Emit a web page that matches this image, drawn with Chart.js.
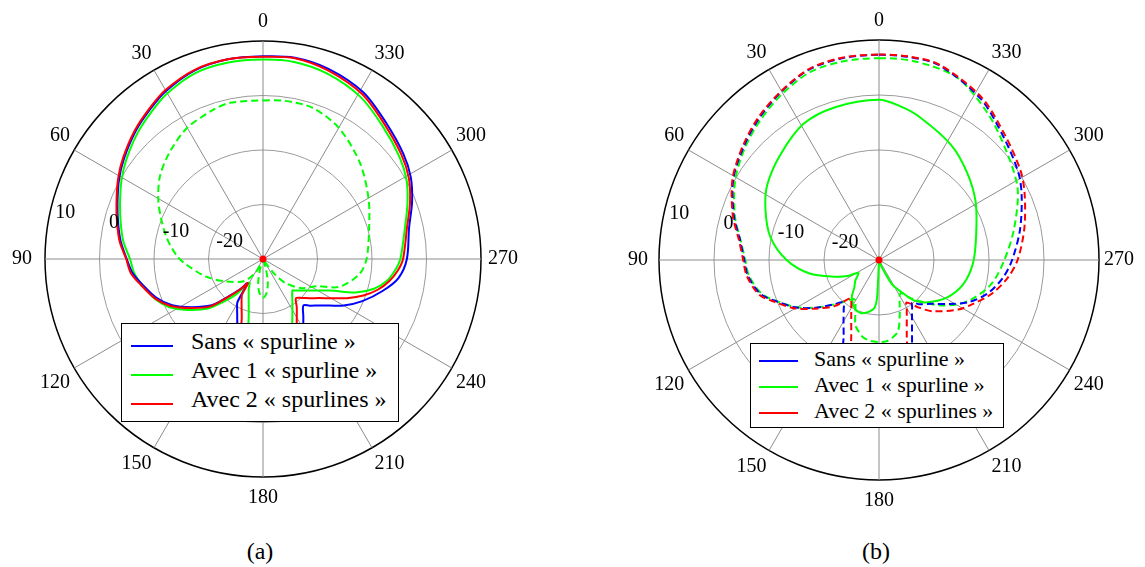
<!DOCTYPE html>
<html>
<head>
<meta charset="utf-8">
<script src="https://cdn.jsdelivr.net/npm/chart.js@4.4.1/dist/chart.umd.min.js"></script>
<style>
body { margin:0; background:#fff; font-family:"Liberation Serif","Times New Roman",serif; }
#wrap { position:relative; width:1145px; height:567px; overflow:hidden; background:#fff; }
canvas { position:absolute; top:0; }
.legend { position:absolute; background:#fff; border:1.5px solid #000; box-sizing:border-box; }
.legend .txt { position:absolute; white-space:nowrap; color:#000; }
.legend .sw { position:absolute; height:0; border-top:2px solid; }
.caption { position:absolute; width:80px; text-align:center; font-size:24px; line-height:28px; }
</style>
</head>
<body>
<div id="wrap">
  <canvas id="chartA" width="530" height="520" style="left:0px"></canvas>
  <canvas id="chartB" width="545" height="520" style="left:600px"></canvas>
  <div class="legend" id="legA"></div>
  <div class="legend" id="legB"></div>
  <div class="caption" style="left:220px;top:537px">(a)</div>
  <div class="caption" style="left:836px;top:537px">(b)</div>
</div>

<script>
// angle labels (deg, counter-clockwise from top) and radial ticks (dB)
var angleTicks = [0, 30, 60, 90, 120, 150, 180, 210, 240, 270, 300, 330];
var radialTicks = [-20, -10, 0, 10];
var legendNames = ['Sans « spurline »', 'Avec 1 « spurline »', 'Avec 2 « spurlines »'];
var legendColors = ['#0000ff', '#00ff00', '#ff0000'];

// (a) [angle, dB]
var sansA = [[0,7.2],[10,7.2],[20,6.8],[30,5.6],[37,4.4],[45,3.1],[54,1.5],[61,0.2],[69,-1.4],[76,-2.6],[83,-3.7],[90,-5.0],[96,-5.9],[102,-7.4],[110,-9.2],[117,-11.3],[124,-14.2],[132,-17.3],[137,-20.5],[143,-23.1],[147,-24.7],[149,-21.1],[150,-20.5],[155,-18.8],[160,-16.2],[165,-11.7],[172,-12],[180,-12],[188,-11],[195,-2.5],[200,-8.4],[205,-12.5],[210,-15.2],[215,-17.1],[221,-18.7],[225,-17.9],[230,-16.7],[235,-15.1],[240,-12.9],[247,-10.2],[255,-7.3],[262,-4.9],[270,-3.6],[282,-2.6],[291,-0.7],[299,1.0],[307,2.2],[318,3.7],[329,5.7],[341,6.9],[351,7.4]];
var avec1A = [[0,6.6],[10,6.6],[20,6.3],[30,5.1],[37,3.9],[45,2.6],[54,1.0],[61,-0.3],[69,-1.9],[76,-3.1],[83,-4.2],[90,-5.6],[96,-6.2],[102,-7.3],[110,-8.8],[117,-10.6],[124,-13.3],[132,-16.4],[137,-19.2],[143,-22.0],[150,-25.0],[155,-23.8],[160,-22.3],[165,-19.9],[170,-14.9],[175,-12.5],[180,-12],[190,-12],[195,-10.5],[200,-14.3],[205,-17.3],[210,-19.2],[215,-20.6],[223,-22.1],[225,-21.8],[230,-21.0],[235,-19.9],[240,-18.4],[245,-16.3],[250,-12.0],[255,-8.9],[260,-6.9],[265,-5.7],[270,-4.8],[282,-3.4],[291,-1.6],[299,0.1],[307,1.3],[318,2.8],[329,4.7],[341,6.0],[351,6.6]];
var avec2A = [[0,7.1],[10,7.2],[20,6.9],[30,5.8],[37,4.6],[45,3.3],[54,1.7],[61,0.4],[69,-1.2],[76,-2.4],[83,-3.5],[90,-4.9],[96,-5.6],[102,-7.1],[110,-8.9],[117,-11.0],[124,-13.9],[132,-17.0],[137,-20.3],[143,-23.0],[148,-24.8],[149,-22.8],[150,-22.2],[155,-20.7],[160,-18.6],[165,-14.9],[172,-14],[180,-13.5],[188,-12],[195,-6.1],[200,-11.9],[205,-15.4],[210,-17.6],[215,-19.2],[220,-20.6],[225,-19.9],[230,-18.8],[235,-17.5],[240,-15.6],[245,-13.0],[250,-10.4],[255,-8.2],[260,-6.5],[265,-5.2],[270,-4.3],[282,-3.0],[291,-1.1],[299,0.6],[307,1.8],[318,3.3],[329,5.3],[341,6.6],[351,7.3]];
var avec1A_x = [[0,-0.9],[12,-0.7],[18,-1.1],[30,-2.2],[41,-3.95],[51,-5.7],[60,-7.8],[68,-9.8],[78,-12.0],[88,-14.2],[94,-15.85],[107,-19.0],[121,-22.0],[139,-24.6],[151,-27.1],[155,-29.5],[160,-30],[164,-28],[168,-25.8],[172,-24.3],[176,-23.3],[180,-22.9],[184,-23.3],[188,-24.3],[192,-25.8],[196,-28],[200,-30],[210,-30],[213,-29.3],[217,-26.8],[223,-24.0],[233,-21.1],[243,-19.0],[250,-15.1],[261,-12.1],[270,-11.0],[286,-9.75],[300,-7.65],[315,-4.9],[330,-2.2],[342,-0.8],[352,-0.7]];

// (b)
var sansB = [[0,7.3],[10,7.3],[20,6.9],[30,5.4],[40,3.8],[50,2.1],[61,0.3],[73,-2.4],[82,-4.5],[90,-5.5],[97,-6.0],[106,-7.6],[112,-9.9],[120,-12.7],[127,-15.6],[134,-18.3],[140,-19.9],[145,-18.8],[150,-17.1],[155,-14.8],[160,-11.2],[170,-9],[180,-8],[190,-9],[195,-6.7],[200,-12.4],[205,-15.8],[210,-18.0],[215,-19.5],[218,-20.2],[222,-19.2],[230,-17.6],[238,-14.9],[245,-11.9],[253,-9.3],[262,-7.2],[270,-5.8],[282,-3.8],[294,-1.6],[302,-0.1],[315,1.9],[328,4.7],[343,7.1],[352,7.3]];
var avec1B = [[0,6.7],[10,6.7],[20,6.4],[30,5.0],[40,3.4],[50,1.8],[61,-0.1],[73,-2.6],[82,-4.6],[90,-5.7],[97,-6.2],[106,-7.8],[112,-10.0],[120,-12.8],[127,-15.6],[135,-18.6],[147,-21.55],[150,-21.4],[155,-19.85],[160,-17.45],[164,-16.5],[168,-15.7],[174,-15.2],[180,-15.1],[185,-15.15],[190,-15.7],[195,-16.6],[200,-19.0],[205,-21.1],[210,-22.5],[214,-22.8],[219,-21.2],[226,-19.0],[233,-16.3],[240,-13.8],[247,-11.7],[258,-9.1],[270,-7.2],[283,-4.8],[297,-1.7],[309,0.2],[323,3.1],[337,6.1],[350,6.7]];
var avec2B = [[0,7.35],[10,7.4],[20,7.0],[30,5.5],[40,4.0],[50,2.3],[61,0.45],[73,-2.2],[82,-4.3],[90,-5.3],[97,-5.8],[106,-7.3],[112,-9.6],[120,-12.4],[127,-15.3],[136,-18.35],[143,-21.3],[145,-21.2],[150,-19.9],[155,-18.05],[160,-15.24],[165,-10.5],[172,-8],[180,-7],[188,-8],[195,-10.5],[200,-15.24],[205,-18.05],[210,-19.9],[213,-20.8],[220,-18.7],[226,-16.6],[238,-13.0],[244,-11.4],[253,-8.7],[262,-6.4],[270,-4.8],[282,-3.0],[294,-1.0],[302,0.4],[315,2.3],[328,5.0],[343,7.2],[352,7.4]];
var avec1B_x = [[0,-0.87],[16,-1.1],[29,-1.7],[43,-3.75],[56,-5.5],[66,-7.4],[78,-9.8],[90,-13.2],[101,-17.15],[111,-21.55],[117,-23.6],[122,-25.6],[131,-24.3],[138,-23.3],[144,-21.6],[154,-20.1],[161,-19.8],[167,-20.2],[172,-20.8],[175,-21.4],[177,-23],[178,-30],[200,-30],[201,-28.7],[208,-25.1],[215,-22.9],[221,-20.2],[229,-18.3],[241,-15.9],[254,-14.05],[268,-12.9],[284,-11.8],[301,-9.5],[315,-7.4],[328,-5.3],[344,-3.0],[352,-1.8]];

// radar goes clockwise, the figure goes counter-clockwise -> flip the labels
var labelsDeg = [];
for (var k = 0; k < 360; k++) labelsDeg.push((360 - k) % 360);

function spread(pairs) {
  var out = new Array(360).fill(null);
  pairs.forEach(function (p) { out[(360 - p[0]) % 360] = p[1]; });
  return out;
}

var radialLabels = {
  id: 'radialLabels',
  afterDraw: function (chart) {
    var s = chart.scales.r, ctx = chart.ctx;
    ctx.save();
    ctx.font = '20px "Liberation Serif"';
    ctx.fillStyle = '#000';
    ctx.textAlign = 'left';
    ctx.textBaseline = 'middle';
    radialTicks.forEach(function (v) {
      var p = s.getPointPositionForValue(labelsDeg.indexOf(80), v);
      ctx.fillText(String(v), p.x + 7, p.y - 8);
    });
    ctx.fillStyle = '#ff0000';
    ctx.beginPath();
    ctx.arc(s.xCenter, s.yCenter, 3.5, 0, Math.PI * 2);
    ctx.fill();
    ctx.restore();
  }
};

function polarChart(id, sets, pad, labelPad) {
  return new Chart(document.getElementById(id), {
    type: 'radar',
    data: {
      labels: labelsDeg,
      datasets: sets.map(function (s) {
        return { label: s.name, data: spread(s.data), borderColor: s.color, borderWidth: 2,
                 borderDash: s.dash ? [7, 4] : [], fill: false, pointRadius: 0, pointHoverRadius: 0,
                 spanGaps: true, tension: 0.3 };
      })
    },
    options: {
      responsive: false, animation: false, devicePixelRatio: 1,
      layout: { padding: pad },
      events: [],
      plugins: { legend: { display: false }, tooltip: { enabled: false } },
      scales: {
        r: {
          min: -30, max: 10,
          ticks: { stepSize: 10, display: false },
          grid: {
            circular: true,
            color: function (c) { return c.tick && c.tick.value === 10 ? '#000' : '#9a9a9a'; },
            lineWidth: function (c) { return c.tick && c.tick.value === 10 ? 1.5 : 1; }
          },
          angleLines: {
            color: '#8c8c8c',
            lineWidth: function (c) { return angleTicks.indexOf(labelsDeg[c.index]) >= 0 ? 1 : 0; }
          },
          pointLabels: {
            color: '#000',
            padding: function (c) { var d = labelsDeg[c.index]; return labelPad[d] !== undefined ? labelPad[d] : 5; },
            font: { family: "'Liberation Serif', serif", size: 20 },
            callback: function (l) { return angleTicks.indexOf(l) >= 0 ? String(l) : ''; }
          }
        }
      }
    },
    plugins: [radialLabels]
  });
}

polarChart('chartA', [
  { name: legendNames[2], data: avec2A, color: '#ff0000' },
  { name: legendNames[0], data: sansA, color: '#0000ff' },
  { name: legendNames[1], data: avec1A, color: '#00ff00' },
  { name: legendNames[1], data: avec1A_x, color: '#00ff00', dash: true }
], { left: 10, top: 5, right: 10, bottom: 5 }, { 0: 7, 180: 9, 90: 13, 270: 7 });

polarChart('chartB', [
  { name: legendNames[2], data: avec2B, color: '#ff0000', dash: true },
  { name: legendNames[0], data: sansB, color: '#0000ff', dash: true },
  { name: legendNames[1], data: avec1B, color: '#00ff00', dash: true },
  { name: legendNames[1], data: avec1B_x, color: '#00ff00' }
], { left: 26, top: 6, right: 9, bottom: 4 }, { 0: 7, 180: 9, 90: 11, 270: 5 });

function makeLegend(id, b) {
  var el = document.getElementById(id);
  el.style.left = b.x + 'px'; el.style.top = b.y + 'px';
  el.style.width = b.w + 'px'; el.style.height = b.h + 'px';
  legendNames.forEach(function (name, i) {
    var sw = document.createElement('div');
    sw.className = 'sw';
    sw.style.left = b.lineX + 'px';
    sw.style.width = b.lineW + 'px';
    sw.style.top = (b.rows[i] - 1) + 'px';
    sw.style.borderTopColor = legendColors[i];
    el.appendChild(sw);
    var t = document.createElement('div');
    t.className = 'txt';
    t.textContent = name;
    t.style.fontSize = b.font + 'px';
    t.style.lineHeight = (b.font * 1.2) + 'px';
    t.style.left = b.textX + 'px';
    t.style.top = (b.rows[i] + b.base - 0.1 * b.font - 0.891 * b.font) + 'px';
    el.appendChild(t);
  });
}
makeLegend('legA', { x: 121, y: 323, w: 278, h: 99, lineX: 9, lineW: 42, textX: 69, rows: [22, 51, 80], font: 24, base: 5 });
makeLegend('legB', { x: 750, y: 343, w: 254, h: 85, lineX: 8, lineW: 39, textX: 63, rows: [17, 43, 69], font: 22, base: 7 });
</script>
</body>
</html>
